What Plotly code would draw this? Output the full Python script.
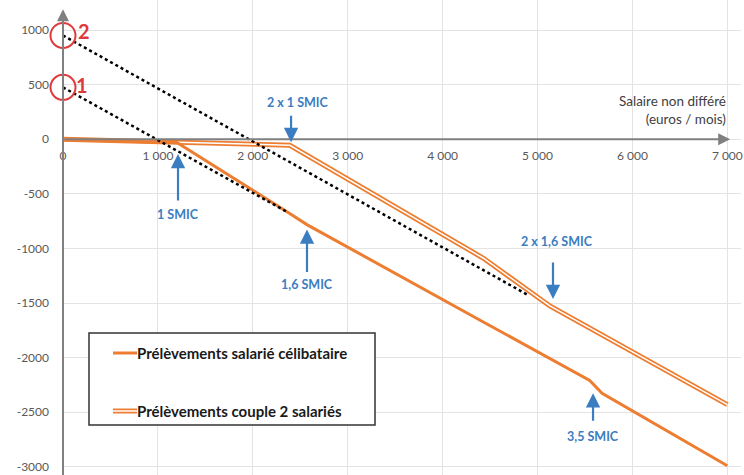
import plotly.graph_objects as go

# ---- data ----
x_ticks = [0, 1000, 2000, 3000, 4000, 5000, 6000, 7000]
x_ticktext = ["0", "1 000", "2 000", "3 000", "4 000", "5 000", "6 000", "7 000"]
y_ticks = [1000, 500, 0, -500, -1000, -1500, -2000, -2500, -3000]
y_ticktext = ["1000", "500", "0", "-500", "-1000", "-1500", "-2000", "-2500", "-3000"]

single_x = [0, 1200, 2360, 2570, 4400, 5550, 5680, 7000]
single_y = [-5, -30, -664, -782, -1660, -2209, -2327, -2990]

couple_x = [0, 1200, 2390, 4430, 5130, 7000]
couple_y = [0, -25, -55, -1090, -1527, -2430]

dotted1_x = [0, 2370]
dotted1_y = [475, -670]
dotted2_x = [0, 4900]
dotted2_y = [950, -1427]

smic_labels = ["2 x 1 SMIC", "1 SMIC", "1,6 SMIC", "2 x 1,6 SMIC", "3,5 SMIC"]
smic_arrow_x = [2403, 1212, 2571, 5163, 5585]
smic_tip_y = [-27, -136, -827, -1464, -2327]
smic_text_x = [2476, 1212, 2571, 5205, 5585]
smic_text_y = [336, -691, -1327, -936, -2718]
smic_tail_off = [-28, 48, 44, -38, 29]

legend_labels = ["Prélèvements salarié célibataire", "Prélèvements couple 2 salariés"]

ORANGE = "#ED7D31"
BLUE = "#3A7DC0"
RED = "#E0393B"
GRAY = "#808080"
FONT = "Lato"

Y_MIN, Y_MAX = -3075, 1275

fig = go.Figure()

fig.add_trace(go.Scatter(x=couple_x, y=couple_y, mode="lines",
                         line=dict(color=ORANGE, width=5), showlegend=False, hoverinfo="skip"))
fig.add_trace(go.Scatter(x=couple_x, y=couple_y, mode="lines",
                         line=dict(color="white", width=1.5), showlegend=False, hoverinfo="skip"))
fig.add_trace(go.Scatter(x=single_x, y=single_y, mode="lines",
                         line=dict(color=ORANGE, width=3), showlegend=False, hoverinfo="skip"))
for dx, dy in [(dotted1_x, dotted1_y), (dotted2_x, dotted2_y)]:
    fig.add_trace(go.Scatter(x=dx, y=dy, mode="lines",
                             line=dict(color="black", width=2.5, dash="dot"),
                             showlegend=False, hoverinfo="skip"))

annotations = []
annotations.append(dict(x=7030, y=0, ax=0, ay=0, xref="x", yref="y", axref="x", ayref="y",
                        text="", showarrow=True, arrowhead=2, arrowsize=1.2, arrowwidth=2,
                        arrowcolor=GRAY))
annotations.append(dict(x=0, y=1190, ax=0, ay=Y_MIN - 100, xref="x", yref="y", axref="x",
                        ayref="y", text="", showarrow=True, arrowhead=2, arrowsize=1.2,
                        arrowwidth=2, arrowcolor=GRAY))
annotations.append(dict(x=7012, y=264, xref="x", yref="y", xanchor="right", yanchor="middle",
                        align="right", showarrow=False,
                        text="Salaire non différé<br>(euros / mois)",
                        font=dict(family=FONT, size=13.5, color="#404040")))
for lab, axx, ty, tx, tyy, off in zip(smic_labels, smic_arrow_x, smic_tip_y,
                                      smic_text_x, smic_text_y, smic_tail_off):
    annotations.append(dict(x=axx, y=ty, ax=0, ay=off, xref="x", yref="y", text="",
                            showarrow=True, arrowhead=2, arrowsize=1.3, arrowwidth=2.2,
                            arrowcolor=BLUE, standoff=0))
    annotations.append(dict(x=tx, y=tyy, xref="x", yref="y", text="<b>%s</b>" % lab,
                            showarrow=False, font=dict(family=FONT, size=12.5, color=BLUE)))
annotations.append(dict(x=221, y=991, xref="x", yref="y", text="<b>2</b>", showarrow=False,
                        font=dict(family=FONT, size=20, color=RED)))
annotations.append(dict(x=205, y=500, xref="x", yref="y", text="<b>1</b>", showarrow=False,
                        font=dict(family=FONT, size=20, color=RED)))

L, W, H = 63, 678, 475
def px(xp):
    return (xp - L) / W
def py(yp):
    return 1 - yp / H

shapes = []
shapes.append(dict(type="rect", xref="paper", yref="paper", x0=px(89), x1=px(375),
                   y0=py(425), y1=py(333), line=dict(color="#333333", width=1.5),
                   fillcolor="white"))
shapes.append(dict(type="line", xref="paper", yref="paper", x0=px(113), x1=px(137),
                   y0=py(353), y1=py(353), line=dict(color=ORANGE, width=3)))
shapes.append(dict(type="line", xref="paper", yref="paper", x0=px(113), x1=px(137),
                   y0=py(411), y1=py(411), line=dict(color=ORANGE, width=5)))
shapes.append(dict(type="line", xref="paper", yref="paper", x0=px(113), x1=px(137),
                   y0=py(411), y1=py(411), line=dict(color="white", width=1.5)))
for lab, yy in zip(legend_labels, [353, 411]):
    annotations.append(dict(x=px(135), y=py(yy), xref="paper", yref="paper", xanchor="left",
                            yanchor="middle", text="<b>%s</b>" % lab, showarrow=False,
                            font=dict(family=FONT, size=15, color="#1a1a1a")))

for cy in [950, 475]:
    shapes.append(dict(type="circle", xref="paper", yref="y", xsizemode="pixel",
                       ysizemode="pixel", xanchor=0, yanchor=cy,
                       x0=-12.5, x1=12.5, y0=-12.5, y1=12.5,
                       line=dict(color=RED, width=2)))

fig.update_layout(
    width=744, height=475,
    margin=dict(l=63, r=3, t=0, b=0, autoexpand=False),
    paper_bgcolor="white", plot_bgcolor="white",
    showlegend=False,
    annotations=annotations, shapes=shapes,
    font=dict(family=FONT),
    xaxis=dict(range=[0, 7144], tickvals=x_ticks, ticktext=x_ticktext,
               showgrid=True, gridcolor="#E3E3E3", gridwidth=1, zeroline=False,
               showline=False, anchor="free", position=(0 - Y_MIN) / (Y_MAX - Y_MIN),
               ticks="", ticklabelstandoff=8, automargin=False,
               tickfont=dict(family=FONT, size=12, color="#595959")),
    yaxis=dict(range=[Y_MIN, Y_MAX], tickvals=y_ticks, ticktext=y_ticktext,
               showgrid=True, gridcolor="#E3E3E3", gridwidth=1, zeroline=False,
               showline=False, ticks="", ticklabelstandoff=13, automargin=False,
               ticklabeloverflow="allow",
               tickfont=dict(family=FONT, size=12, color="#595959")),
)

fig.write_html("out.html", config={"displayModeBar": False},
               post_script="document.body.style.margin='0';document.body.style.overflow='hidden';")
